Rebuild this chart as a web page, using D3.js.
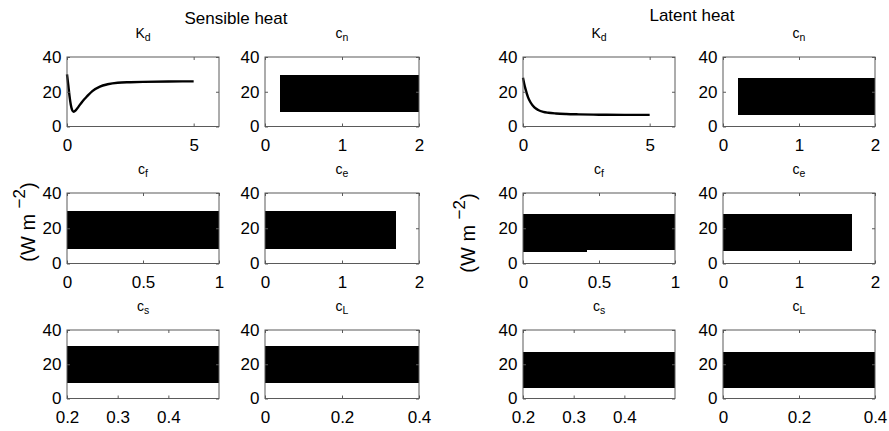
<!DOCTYPE html>
<html>
<head>
<meta charset="utf-8">
<script src="https://cdn.jsdelivr.net/npm/d3@7"></script>
<style>
  html, body { margin: 0; padding: 0; background: #fff; }
  svg { display: block; font-family: "Liberation Sans", Arial, Helvetica, sans-serif; }
</style>
</head>
<body>
<svg id="chart" width="889" height="431"></svg>
<script>
// ---------------- data ----------------
const groupTitles = ["Sensible heat", "Latent heat"];
const panelKeys = ["Kd", "cn", "cf", "ce", "cs", "cL"];
const panelLabels = [["K", "d"], ["c", "n"], ["c", "f"], ["c", "e"], ["c", "s"], ["c", "L"]];
const xDomains = [[0, 6], [0, 2], [0, 1], [0, 2], [0.2, 0.4999], [0, 0.4]];
const xTickValues = [[0, 5], [0, 1, 2], [0, 0.5, 1], [0, 1, 2], [0.2, 0.3, 0.4], [0, 0.2, 0.4]];
const yDomain = [0, 40];
const yTickValues = [0, 20, 40];
const yLabelMain = "(W m";
const yLabelSup = "\u22122";

// K_d response curves
const kdSensibleX = [0, 0.05, 0.1, 0.15, 0.2, 0.26, 0.35, 0.45, 0.6, 0.8, 1.0, 1.3, 1.6, 2.0, 2.5, 3, 4, 5];
const kdSensibleY = [30, 24, 17.5, 12.5, 9.6, 8.5, 9.4, 11.3, 14.3, 17.5, 20.4, 23, 24.3, 25.2, 25.5, 25.7, 25.9, 26];
const kdLatentX = [0, 0.05, 0.1, 0.2, 0.3, 0.45, 0.6, 0.8, 1.0, 1.3, 1.7, 2.2, 3, 4, 5];
const kdLatentY = [28, 24.5, 21.5, 16.8, 13.8, 11, 9.5, 8.4, 7.9, 7.5, 7.2, 7.0, 6.8, 6.7, 6.7];

// dense oscillation envelopes: [xStart, xEnd, low, high]
const bandsSensible = {
  cn: [[0.2, 2, 8.5, 29.5]],
  cf: [[0, 1, 8.5, 29.6]],
  ce: [[0, 1.7, 8.5, 29.6]],
  cs: [[0.2, 0.4999, 9, 30.5]],
  cL: [[0, 0.4, 9, 30.5]]
};
const bandsLatent = {
  cn: [[0.2, 2, 6.6, 27.8]],
  cf: [[0, 0.42, 6.6, 27.9], [0.41, 1, 7.5, 27.9]],
  ce: [[0, 1.7, 7, 28]],
  cs: [[0.2, 0.4999, 6.2, 27.4]],
  cL: [[0, 0.4, 6.2, 27.4]]
};

// ---------------- layout ----------------
const svg = d3.select("#chart");
const groupCols = [
  [[67, 219], [265, 419]],
  [[523, 675], [723, 875]]
];
const rowSpans = [[57, 126.5], [193, 263.5], [330, 398.5]];
const titleBaselines = [24, 20.5];
const yLabelPos = [{ x: 35, y: 222 }, { x: 475, y: 233 }];
const frameColor = "#5a5a5a";
const tickFont = 17;
const fmt = d3.format("~g");

const groupsData = [
  { kdX: kdSensibleX, kdY: kdSensibleY, bands: bandsSensible },
  { kdX: kdLatentX, kdY: kdLatentY, bands: bandsLatent }
];

groupsData.forEach((gd, gi) => {
  const cols = groupCols[gi];
  const cx = (cols[0][0] + cols[1][1]) / 2 - 7;
  svg.append("text")
    .attr("x", cx).attr("y", titleBaselines[gi])
    .attr("text-anchor", "middle")
    .attr("font-size", 17)
    .attr("fill", "#000")
    .text(groupTitles[gi]);

  // y label
  const yl = svg.append("text")
    .attr("transform", `translate(${yLabelPos[gi].x},${yLabelPos[gi].y}) rotate(-90)`)
    .attr("text-anchor", "middle")
    .attr("font-size", 20)
    .attr("fill", "#000");
  yl.append("tspan").text(yLabelMain + " ");
  yl.append("tspan").attr("dy", -10).attr("font-size", 17).text(yLabelSup);
  yl.append("tspan").attr("dy", 10).text(")");

  panelKeys.forEach((key, pi) => {
    const r = Math.floor(pi / 2), c = pi % 2;
    const [x0, x1] = cols[c];
    const [y0, y1] = rowSpans[r];
    const x = d3.scaleLinear().domain(xDomains[pi]).range([x0, x1]);
    const y = d3.scaleLinear().domain(yDomain).range([y1, y0]);
    const g = svg.append("g");

    // data marks
    if (key === "Kd") {
      const pts = gd.kdX.map((v, i) => [v, gd.kdY[i]]);
      g.append("path")
        .datum(pts)
        .attr("fill", "none")
        .attr("stroke", "#000")
        .attr("stroke-width", 2.4)
        .attr("stroke-linejoin", "round")
        .attr("d", d3.line().x(d => x(d[0])).y(d => y(d[1])).curve(d3.curveMonotoneX));
    } else {
      g.selectAll("rect.band")
        .data(gd.bands[key])
        .join("rect")
        .attr("class", "band")
        .attr("x", d => x(d[0]))
        .attr("width", d => x(d[1]) - x(d[0]))
        .attr("y", d => y(d[3]))
        .attr("height", d => y(d[2]) - y(d[3]))
        .attr("fill", "#000")
        .attr("shape-rendering", "crispEdges");
    }

    // frame
    g.append("rect")
      .attr("x", x0).attr("y", y0)
      .attr("width", x1 - x0).attr("height", y1 - y0)
      .attr("fill", "none")
      .attr("stroke", frameColor)
      .attr("stroke-width", 1);

    // axes
    const ax = g.append("g").attr("transform", `translate(0,${y1})`)
      .call(d3.axisBottom(x).tickValues(xTickValues[pi]).tickSizeInner(-3).tickSizeOuter(0).tickPadding(12.5).tickFormat(fmt));
    const axT = g.append("g").attr("transform", `translate(0,${y0})`)
      .call(d3.axisTop(x).tickValues(xTickValues[pi]).tickSizeInner(-3).tickSizeOuter(0).tickFormat(""));
    const ay = g.append("g").attr("transform", `translate(${x0},0)`)
      .call(d3.axisLeft(y).tickValues(yTickValues).tickSizeInner(-3).tickSizeOuter(0).tickPadding(5.5).tickFormat(fmt));
    const ayR = g.append("g").attr("transform", `translate(${x1},0)`)
      .call(d3.axisRight(y).tickValues(yTickValues).tickSizeInner(-3).tickSizeOuter(0).tickFormat(""));
    [ax, axT, ay, ayR].forEach(a => {
      a.select(".domain").remove();
      a.selectAll("line").attr("stroke", frameColor);
      a.selectAll("text").attr("font-size", tickFont).attr("fill", "#000")
        .attr("font-family", "'Liberation Sans', Arial, Helvetica, sans-serif");
    });

    // panel title
    const t = svg.append("text")
      .attr("x", (x0 + x1) / 2).attr("y", y0 - 19)
      .attr("text-anchor", "middle")
      .attr("font-size", 14)
      .attr("fill", "#000");
    t.append("tspan").text(panelLabels[pi][0]);
    t.append("tspan").attr("dy", 3).attr("font-size", 10.5).text(panelLabels[pi][1]);
  });
});
</script>
</body>
</html>
